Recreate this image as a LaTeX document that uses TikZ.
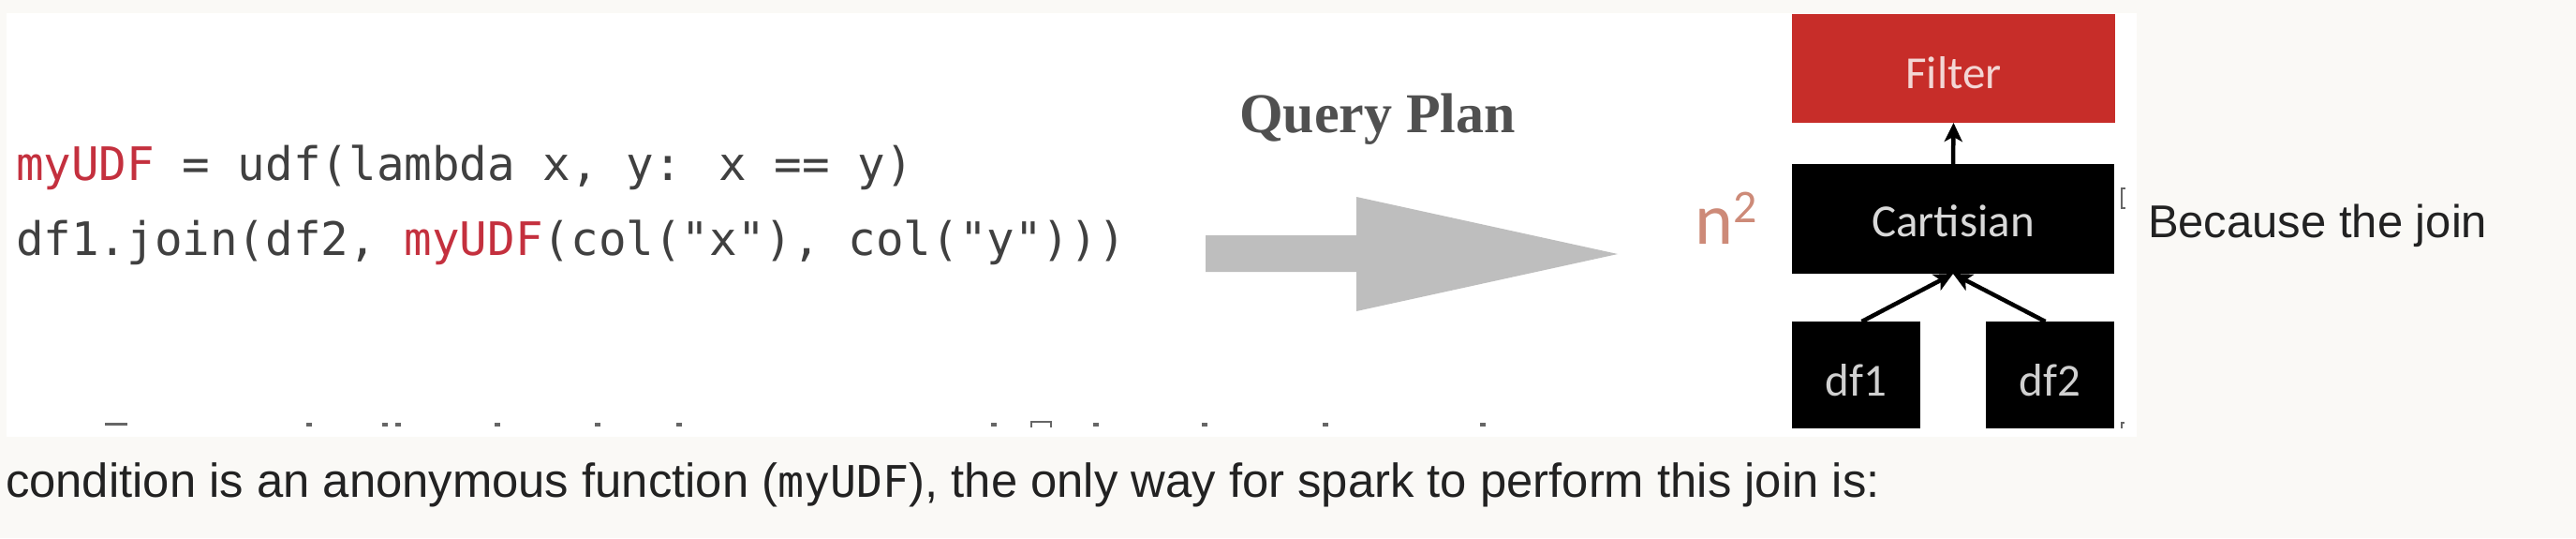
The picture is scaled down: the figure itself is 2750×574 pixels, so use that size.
\documentclass[tikz,border=0pt]{standalone}
\usepackage{fontspec}
\usetikzlibrary{arrows.meta}
\newfontfamily\codefont{DejaVu Sans Mono}
\newfontfamily\slidefont{Carlito}
\newfontfamily\qpfont{Liberation Serif}
\newfontfamily\webfont{Liberation Sans}
\definecolor{pagebg}{HTML}{FAF9F6}
\definecolor{codered}{HTML}{C4303E}
\definecolor{codegray}{HTML}{404040}
\definecolor{qpgray}{HTML}{505050}
\definecolor{filterred}{HTML}{C72D29}
\definecolor{filtertext}{HTML}{F3D6D4}
\definecolor{cartext}{HTML}{D9D9D9}
\definecolor{dftext}{HTML}{D0D0D0}
\definecolor{arrowgray}{HTML}{BEBEBE}
\definecolor{nsqcol}{HTML}{CD8A78}
\definecolor{webtext}{HTML}{222222}
\definecolor{fragment}{HTML}{666666}
\begin{document}
\begin{tikzpicture}[x=1pt,y=-1pt,
  txt/.style={inner sep=0pt, outer sep=0pt},
  opbox/.style={rectangle, inner sep=0pt, outer sep=0pt,
    font=\slidefont\fontsize{49}{49}\selectfont, text depth=0pt},
  flow/.style={line width=4.5pt, draw=black, -{Stealth[length=20pt,width=19pt,inset=5pt]}},
  codeline/.style={txt, anchor=base west, text=codegray,
    font=\codefont\fontsize{49.2}{59}\selectfont},
  webline/.style={txt, anchor=base west, text=webtext}]
\useasboundingbox (0,0) rectangle (2750,574);
\fill[pagebg] (0,0) rectangle (2750,574);
\fill[white] (7,14) rectangle (2281,466);

% code
\node[codeline] (code1) at (17,192) {\textcolor{codered}{myUDF} = udf(lambda x, y: x == y)};
\node[codeline] (code2) at (17,272) {df1.join(df2, \textcolor{codered}{myUDF}(col("x"), col("y")))};

% big arrow
\fill[arrowgray] (1287,251) -- (1448,251) -- (1448,210) -- (1727,271)
  -- (1448,332) -- (1448,290) -- (1287,290) -- cycle;
\node[txt, anchor=base west, text=qpgray,
  font=\qpfont\bfseries\fontsize{60}{60}\selectfont] (qp) at (1323,141) {Query Plan};

% plan
\node[opbox, fill=filterred, text=filtertext, minimum width=345pt,
  minimum height=116pt, text height=43pt] (filter) at (2085.5,73) {Filter};
\node[opbox, fill=black, text=cartext, minimum width=344pt,
  minimum height=117pt, text height=37pt] (cart) at (2085,233.5) {Cartisian};
\node[opbox, fill=black, text=dftext, minimum width=137pt,
  minimum height=114pt, text height=44pt] (df1) at (1981.5,400) {df1};
\node[opbox, fill=black, text=dftext, minimum width=137pt,
  minimum height=114pt, text height=44pt] (df2) at (2188.5,400) {df2};
\draw[flow] (cart.north) -- (filter.south);
\draw[flow] ([xshift=6pt]df1.north) -- (cart.south);
\draw[flow] ([xshift=-5pt]df2.north) -- (cart.south);

\node[txt, anchor=base west, text=nsqcol,
  font=\slidefont\fontsize{78}{78}\selectfont] (nsq) at (1809,260)
  {n\raisebox{23pt}{\fontsize{50}{50}\selectfont 2}};

% cut-off fragments
\foreach \fx in {330,411,425,531,638,725,1061,1170,1286,1415,1583}
  \fill[fragment] (\fx-3,451) rectangle (\fx+3,455);
\fill[fragment] (112,451) rectangle (136,454);
\draw[fragment, line width=2pt] (1101,456) -- (1101,450) -- (1122,450) -- (1122,456);
\draw[fragment, line width=1.8pt] (2269,201) -- (2265,201) -- (2265,222) -- (2269,222);
\draw[fragment, line width=1.5pt] (2265,457) -- (2265,451) -- (2268,451);

% page text
\node[webline, font=\webfont\fontsize{49}{49}\selectfont] (because) at (2293,253) {Because the join};
\node[webline, font=\webfont\fontsize{50.8}{50.8}\selectfont] (cond) at (6,530)
  {condition is an anonymous function ({\codefont\fontsize{46.5}{46.5}\selectfont myUDF}), the only way for spark to perform this join is:};
\end{tikzpicture}
\end{document}
